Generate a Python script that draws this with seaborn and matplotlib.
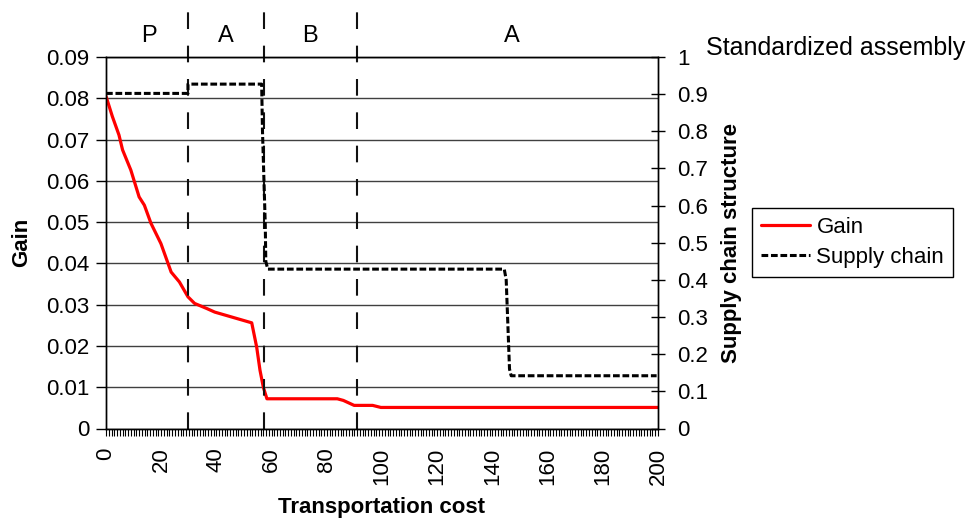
import matplotlib
matplotlib.use("Agg")
import numpy as np
import pandas as pd
import matplotlib.pyplot as plt
import seaborn as sns
from matplotlib.lines import Line2D
from matplotlib.ticker import MultipleLocator

# gain curve
gain_x = [0, 2.3, 4.7, 6, 9, 12, 13.9, 16.3, 19.9, 23.6, 26.6, 29.7, 32.1, 36.4,
          39.4, 46.1, 52.8, 54.6, 55.8, 57, 58.3, 83.8, 86, 89.9, 96.6, 99.6, 200]
gain_y = [0.0805, 0.0756, 0.0711, 0.0675, 0.0626, 0.0561, 0.0541, 0.0497, 0.0448,
          0.0379, 0.0355, 0.0319, 0.0303, 0.0291, 0.0282, 0.0269, 0.0256, 0.0197,
          0.0141, 0.0100, 0.0072, 0.0072, 0.0068, 0.0056, 0.0056, 0.0051, 0.0051]

# supply chain structure (right axis)
sc_x = [0, 29.7, 29.7, 56.4, 56.7, 57.7, 57.9, 58.6, 144.3, 145, 146.2, 146.8, 199.5]
sc_y = [0.902, 0.902, 0.927, 0.927, 0.80, 0.55, 0.45, 0.429, 0.429, 0.40, 0.16, 0.142, 0.142]

# regime boundaries and labels
bounds = [29.7, 57.3, 91]
regions = ["P", "A", "B", "A"]
region_x = [15.5, 43.5, 74, 147]

gain_ticks = [0, 0.01, 0.02, 0.03, 0.04, 0.05, 0.06, 0.07, 0.08, 0.09]
sc_ticks = [0, 0.1, 0.2, 0.3, 0.4, 0.5, 0.6, 0.7, 0.8, 0.9, 1]
cost_ticks = list(range(0, 201, 20))

sns.set_theme(style="ticks")
plt.rcParams['font.family'] = ['Liberation Sans', 'DejaVu Sans']
plt.rcParams['axes.edgecolor'] = 'black'
plt.rcParams['axes.linewidth'] = 1.0
plt.rcParams['xtick.color'] = 'black'
plt.rcParams['ytick.color'] = 'black'
plt.rcParams['text.color'] = 'black'
plt.rcParams['axes.labelcolor'] = 'black'

fig, ax = plt.subplots(figsize=(9.74, 5.18), dpi=100)
fig.subplots_adjust(left=106/974, right=658/974, top=1-57/518, bottom=1-428.5/518)

gain_df = pd.DataFrame({"cost": gain_x, "gain": gain_y})
sc_df = pd.DataFrame({"cost": sc_x, "structure": sc_y})

sns.lineplot(data=gain_df, x="cost", y="gain", ax=ax, color="red", lw=2.3,
             estimator=None, sort=False, legend=False)

ax2 = ax.twinx()
sns.lineplot(data=sc_df, x="cost", y="structure", ax=ax2, color="black", lw=2.2,
             linestyle=(0, (2.2, 0.9)), estimator=None, sort=False, legend=False)

ax.set_xlim(0, 200)
ax.set_ylim(0, 0.09)
ax2.set_ylim(0, 1)

# axes ticks
ax.set_yticks(gain_ticks)
ax.set_yticklabels([f"{t:g}" for t in gain_ticks])
ax2.set_yticks(sc_ticks)
ax2.set_yticklabels([f"{t:g}" for t in sc_ticks])
ax.set_xticks(cost_ticks)
ax.set_xticklabels([str(t) for t in cost_ticks])
ax.xaxis.set_minor_locator(MultipleLocator(1))

ax.tick_params(axis="y", direction="out", length=7, width=1, pad=5, labelsize=16)
ax.tick_params(axis="x", which="both", direction="out", length=4.7, width=0.8,
               pad=9, labelsize=16, labelrotation=90)
ax2.tick_params(axis="y", direction="inout", length=10, width=1, pad=9, labelsize=16)

ax.yaxis.grid(True, color="#404040", lw=1)
ax.xaxis.grid(False)

# regime separators
for b in bounds:
    ax.axvline(b, 0, (428.5 - 6) / 371.5, color="#111111", lw=1.5,
               linestyle=(0, (8, 8)), clip_on=False)
for lab, xr in zip(regions, region_x):
    ax.text(xr, 1.04, lab, transform=ax.get_xaxis_transform(), ha="center",
            va="baseline", fontsize=17)

ax.set_xlabel("Transportation cost", fontsize=16, fontweight="bold", labelpad=9)
ax.set_ylabel("Gain", fontsize=16, fontweight="bold", labelpad=10)
ax2.set_ylabel("Supply chain structure", fontsize=16, fontweight="bold", labelpad=9)

fig.text(706/974, 1 - 55/518, "Standardized assembly", fontsize=18,
         ha="left", va="baseline")

handles = [Line2D([], [], color="red", lw=2.3),
           Line2D([], [], color="black", lw=2.2, linestyle=(0, (2.2, 0.9)))]
leg = fig.legend(handles, ["Gain", "Supply chain"], loc="upper left",
                 bbox_to_anchor=(752/974, 1 - 208/518), bbox_transform=fig.transFigure,
                 frameon=True, fancybox=False, edgecolor="black", framealpha=1,
                 borderpad=0.4, labelspacing=0.4, handlelength=2.2,
                 handletextpad=0.3, borderaxespad=0, fontsize=16)
leg.get_frame().set_linewidth(1.0)

fig.savefig("out.png", dpi=100)
